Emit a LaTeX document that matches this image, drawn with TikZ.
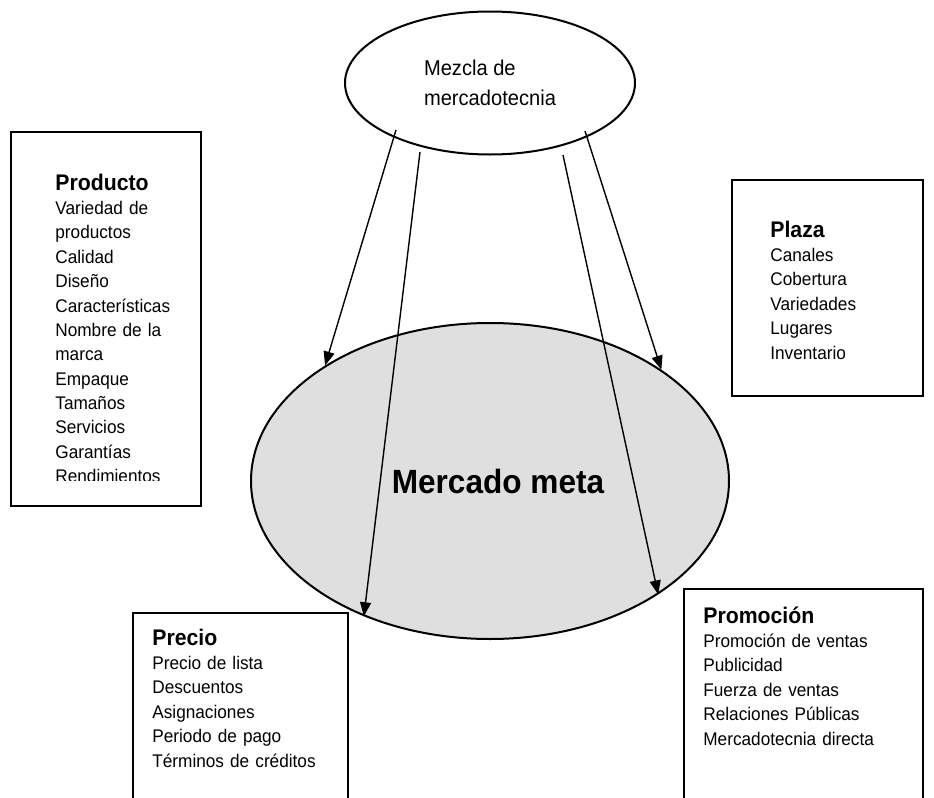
\documentclass[tikz,border=0pt]{standalone}
\usepackage{fontspec}
\setmainfont{Liberation Sans}[FakeStretch=0.94]
\usetikzlibrary{shapes.geometric, arrows.meta, positioning}
\tikzset{
	box/.style={rectangle, draw, line width=1pt, inner sep=0pt},
	list/.style={align=left, inner sep=0pt, anchor=base west, text width=110pt, font=\fontsize{9.15}{12.2}\selectfont},
	line/.style={draw, line width=0.7pt, -{Triangle[length=7pt, width=5.5pt]}}
}
\newcommand{\boxhead}[1]{{\fontsize{11.3}{12.5}\selectfont\bfseries #1}\\}

\begin{document}
\begin{tikzpicture}[
	x=0.5pt, y=-0.5pt,
	% Styles
	goal/.style = {ellipse, draw, line width=1pt, fill=gray!25, minimum width=239pt, minimum height=158pt, inner sep=0pt, font=\fontsize{16.8}{18}\selectfont\bfseries},
	mix/.style = {ellipse, draw, line width=1pt, fill=white, minimum width=145pt, minimum height=71.5pt, inner sep=0pt, align=left, font=\fontsize{10.7}{15}\selectfont}
	]
	\useasboundingbox (0,0) rectangle (934,798);

	% Ellipses
	\node[goal] (meta) at (490,481) {\hspace{8pt}Mercado meta};
	\node[mix] (mezcla) at (490,83) {Mezcla de\\mercadotecnia};

	% Boxes (the two lower ones run off the page)
	\node[box, minimum width=95pt, minimum height=187pt, anchor=north west] (prod) at (10,131) {};
	\node[box, minimum width=95.5pt, minimum height=108pt, anchor=north west] (plaza) at (731,179) {};
	\node[box, minimum width=107.5pt, minimum height=120pt, anchor=north west] (precio) at (132,612) {};
	\node[box, minimum width=119.5pt, minimum height=120pt, anchor=north west] (promo) at (683,588) {};

	% Box texts
	\begin{scope}
		\clip (10,131) rectangle (205,480);
		\node[list] (prodtxt) at ([shift={(45,59)}]prod.north west) {\boxhead{Producto}
			Variedad de\\productos\\Calidad\\Dise\~no\\Caracter\'isticas\\Nombre de la\\marca\\Empaque\\Tama\~nos\\Servicios\\Garant\'ias\\Rendimientos};
	\end{scope}
	\node[list] (plazatxt) at ([shift={(39,58)}]plaza.north west) {\boxhead{Plaza}
		Canales\\Cobertura\\Variedades\\Lugares\\Inventario};
	\node[list] (preciotxt) at ([shift={(20,33)}]precio.north west) {\boxhead{Precio}
		Precio de lista\\Descuentos\\Asignaciones\\Periodo de pago\\T\'erminos de cr\'editos};
	\node[list] (promotxt) at ([shift={(20,35)}]promo.north west) {\boxhead{Promoci\'on}
		Promoci\'on de ventas\\Publicidad\\Fuerza de ventas\\Relaciones P\'ublicas\\Mercadotecnia directa};

	% Arrows
	\coordinate (a1) at (396,130);
	\coordinate (a2) at (420,152);
	\coordinate (a3) at (563,155);
	\coordinate (a4) at (585,131);
	\draw[line] (a1) -- (meta.145.9);
	\draw[line] (a2) -- (meta.227.5);
	\draw[line] (a3) -- (meta.326.6);
	\draw[line] (a4) -- (meta.33.7);
\end{tikzpicture}
\end{document}
